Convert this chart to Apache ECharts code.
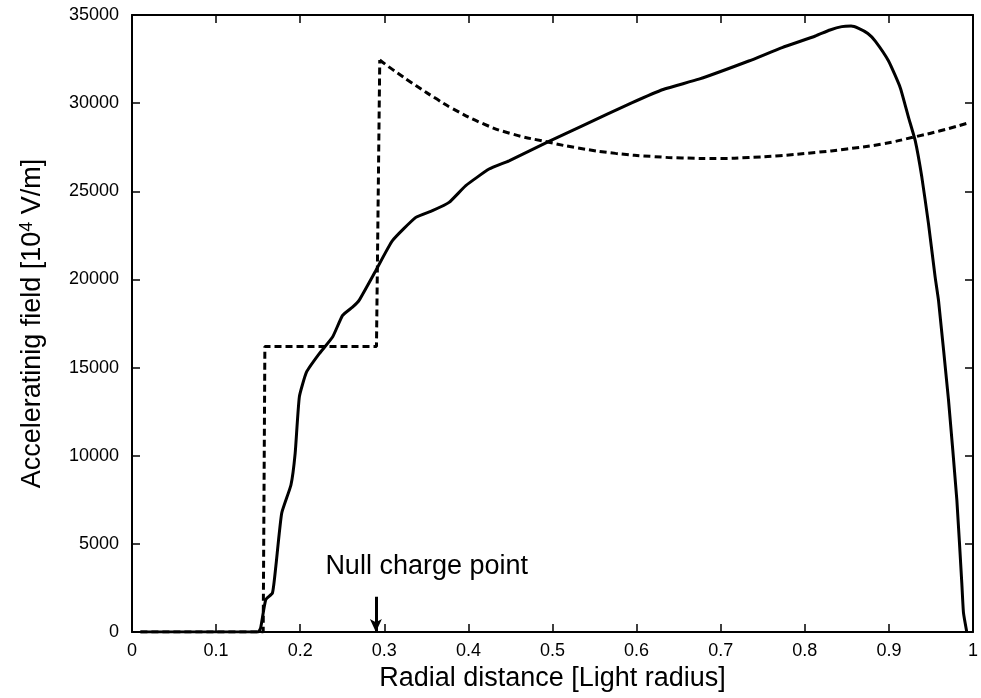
<!DOCTYPE html>
<html>
<head>
<meta charset="utf-8">
<script src="https://cdn.jsdelivr.net/npm/echarts@6/dist/echarts.min.js"></script>
<style>html,body{margin:0;padding:0;background:#fff}#c{width:981px;height:698px}</style>
</head>
<body>
<div id="c"></div>
<script>
// ---- data ----
const xTickLabels = ['0','0.1','0.2','0.3','0.4','0.5','0.6','0.7','0.8','0.9','1'];
const yTickLabels = ['0','5000','10000','15000','20000','25000','30000','35000'];

// solid curve: computed accelerating field
const solidX = [0.01,0.15,0.153,0.159,0.167,0.171,0.178,0.189,0.194,0.199,0.2076,0.2227,0.2385,0.2504,0.2622,0.27,0.29,0.3097,0.3375,0.3572,0.377,0.3969,0.4246,0.4483,0.4958,0.5354,0.5948,0.6324,0.674,0.7334,0.773,0.8126,0.83,0.844,0.855,0.864,0.875,0.8838,0.8996,0.9135,0.9234,0.9313,0.9392,0.9471,0.955,0.959,0.9709,0.9808,0.9867,0.9887,0.9926];
const solidY = [0,0,230,1830,2210,3710,6740,8340,10130,13340,14750,15790,16730,17960,18430,18810,20510,22200,23520,23900,24370,25320,26260,26730,27830,28710,30030,30790,31360,32390,33150,33810,34150,34340,34370,34240,33950,33520,32390,30880,29180,27870,25790,23150,20130,18810,13150,7490,2770,1080,0];

// dashed curve (model field): step part, then the smooth decreasing/increasing part
const dashStepX = [0.01,0.156,0.158,0.2907,0.2946];
const dashStepY = [0,0,16200,16200,32450];
const dashCurveX = [0.2946,0.31,0.3375,0.36,0.38,0.4166,0.45,0.4958,0.53,0.575,0.62,0.654,0.70,0.7334,0.77,0.8126,0.85,0.8917,0.931,0.96,0.9926];
const dashCurveY = [32450,31900,31000,30300,29720,28850,28280,27780,27460,27150,26970,26890,26860,26920,27020,27200,27400,27680,28090,28420,28850];

// annotation
const nullChargeX = 0.29;
const nullArrowTop = 2000;
const nullLabel = 'Null charge point';
const nullLabelPos = [0.3504, 3700];

const FONT = 'Liberation Sans';
const zip = (xs, ys) => xs.map((x, i) => [x, ys[i]]);

const chart = echarts.init(document.getElementById('c'), null, {renderer: 'canvas'});

const mkLine = () => ({show: true, onZero: false, lineStyle: {color: '#000', width: 2}});
const mkTick = () => ({show: true, inside: true, length: 8, lineStyle: {color: '#000', width: 1.5}});

const dashStyle = {color: '#000', width: 3, type: [7, 4]};

chart.setOption({
  animation: false,
  backgroundColor: '#fff',
  grid: {left: 132, right: 6, top: 15, bottom: 66, containLabel: false},
  xAxis: [{
    type: 'value', min: 0, max: 1, interval: 0.1, position: 'bottom',
    axisLine: mkLine(), axisTick: mkTick(), splitLine: {show: false},
    axisLabel: {color: '#000', fontFamily: FONT, fontSize: 18, margin: 10,
      formatter: v => xTickLabels[Math.round(v * 10)]},
    name: 'Radial distance [Light radius]', nameLocation: 'middle', nameGap: 33,
    nameTextStyle: {color: '#000', fontFamily: FONT, fontSize: 27}
  }, {
    type: 'value', min: 0, max: 1, interval: 0.1, position: 'top',
    axisLine: mkLine(), axisTick: mkTick(), splitLine: {show: false}, axisLabel: {show: false}
  }],
  yAxis: [{
    type: 'value', min: 0, max: 35000, interval: 5000, position: 'left',
    axisLine: mkLine(), axisTick: mkTick(), splitLine: {show: false},
    axisLabel: {color: '#000', fontFamily: FONT, fontSize: 18, margin: 13,
      formatter: v => yTickLabels[Math.round(v / 5000)]},
    name: '{t|Acceleratinig field [10}{s|4}{t| V/m]}', nameLocation: 'middle', nameGap: 84,
    nameTextStyle: {color: '#000', fontFamily: FONT, fontSize: 27,
      rich: {
        t: {fontFamily: FONT, fontSize: 27, lineHeight: 30, color: '#000'},
        s: {fontFamily: FONT, fontSize: 18, lineHeight: 18, verticalAlign: 'top', color: '#000'}
      }}
  }, {
    type: 'value', min: 0, max: 35000, interval: 5000, position: 'right',
    axisLine: mkLine(), axisTick: mkTick(), splitLine: {show: false}, axisLabel: {show: false}
  }],
  series: [{
    type: 'line', name: 'model-step', data: zip(dashStepX, dashStepY),
    showSymbol: false, symbol: 'none', smooth: false,
    lineStyle: dashStyle,
    markLine: {
      silent: true, symbol: ['none', 'arrow'], symbolSize: [9, 13],
      label: {show: false},
      lineStyle: {color: '#000', width: 3, type: 'solid'},
      data: [[{coord: [nullChargeX, nullArrowTop]}, {coord: [nullChargeX, 0]}]]
    },
    markPoint: {
      silent: true, symbol: 'circle', symbolSize: 1,
      itemStyle: {color: 'rgba(0,0,0,0)'},
      label: {show: true, position: 'inside', color: '#000', fontFamily: FONT, fontSize: 27,
        formatter: nullLabel},
      data: [{coord: nullLabelPos}]
    }
  }, {
    type: 'line', name: 'model-curve', data: zip(dashCurveX, dashCurveY),
    showSymbol: false, symbol: 'none', smooth: 0.5,
    lineStyle: dashStyle
  }, {
    type: 'line', name: 'computed', data: zip(solidX, solidY),
    showSymbol: false, symbol: 'none', smooth: 0.15,
    lineStyle: {color: '#000', width: 3, type: 'solid'}
  }]
});
</script>
</body>
</html>
